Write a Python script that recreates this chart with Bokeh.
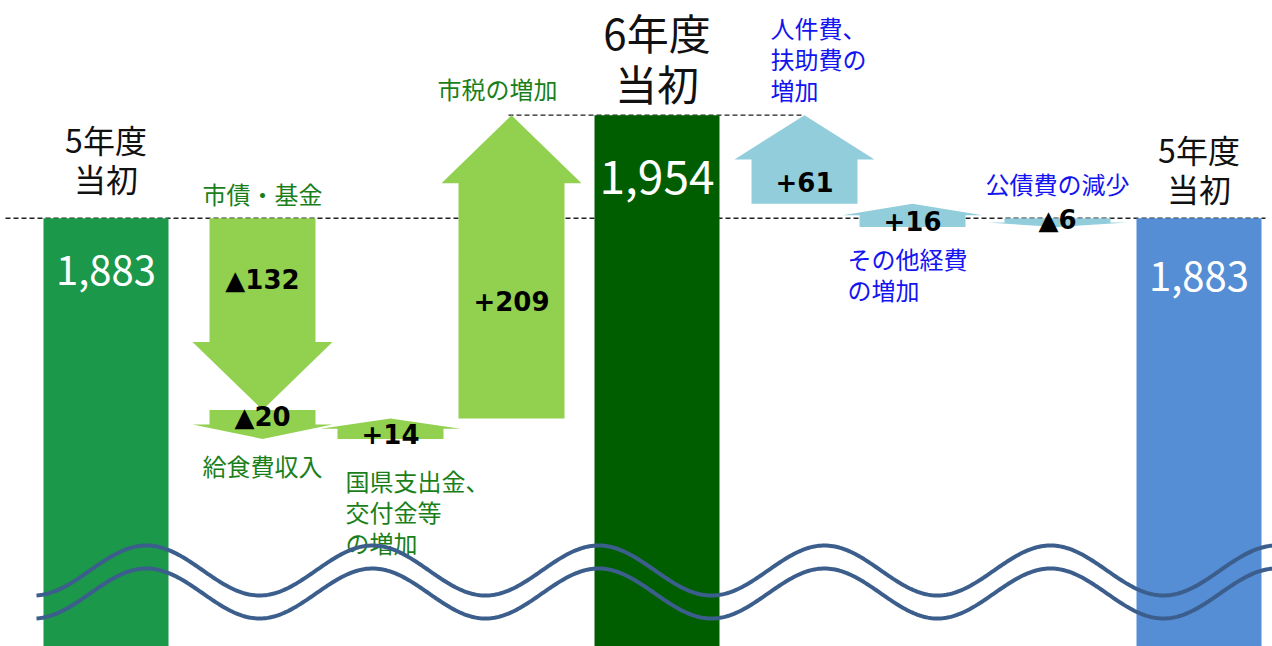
import numpy as np
from bokeh.plotting import figure
from bokeh.models import Range1d
from bokeh.core.properties import value
from bokeh.embed import file_html
from bokeh.resources import INLINE

# ---------------- data ----------------
stage_labels = ["5年度\n当初", "6年度\n当初", "5年度\n当初"]
stage_totals = [1883, 1954, 1883]
revenue_items = ["市債・基金", "給食費収入", "国県支出金、\n交付金等\nの増加", "市税の増加"]
revenue_changes = [-132, -20, 14, 209]
expense_items = ["公債費の減少", "その他経費\nの増加", "人件費、\n扶助費の\n増加"]
expense_changes = [-6, 16, 61]

# ---------------- layout / style ----------------
W, H = 1272, 646
Y_TOP, Y_BOT = 2033.0, 1588.0
PPU = H / (Y_TOP - Y_BOT)          # pixels per value unit


def du(px):
    return px / PPU


bar_x = [105.5, 656.5, 1198.5]
BAR_W = 125
bar_colors = ["#1B9849", "#005E00", "#558ED5"]
rev_x = [262, 262, 390, 511]
exp_x = [1057, 912, 804]
SHAFT_HW, HEAD_HW, HEAD_MAX = 53, 70, 68
REV_FILL = "#92D050"
EXP_FILL = "#92CDDC"
GREEN_TXT = "#1A7F1A"
BLUE_TXT = "#1414F0"
JP = value("Noto Sans CJK JP")
NUM = value("DejaVu Sans")


def fmt_change(v):
    return ("▲" + str(abs(v))) if v < 0 else ("+" + str(v))


def arrow(xc, y0, y1):
    s = 1 if y1 > y0 else -1
    L = abs(y1 - y0) * PPU
    head = du(min(0.5 * L, HEAD_MAX))
    yn = y1 - s * head
    xs = [xc - SHAFT_HW, xc + SHAFT_HW, xc + SHAFT_HW, xc + HEAD_HW, xc, xc - HEAD_HW, xc - SHAFT_HW]
    ys = [y0, y0, yn, yn, y1, yn, yn]
    return xs, ys, (y0 + yn) / 2


p = figure(width=W, height=H, x_range=Range1d(0, W), y_range=Range1d(Y_BOT, Y_TOP),
           toolbar_location=None, output_backend="svg", min_border=0)
p.axis.visible = False
p.grid.visible = False
p.outline_line_color = None
p.background_fill_color = "white"
p.border_fill_color = "white"

# dashed reference lines
p.line([5, 1265], [stage_totals[0], stage_totals[0]], line_color="#222222",
       line_width=1.3, line_dash="5 3")
p.line([rev_x[3] - 3, exp_x[2]], [stage_totals[1], stage_totals[1]], line_color="#222222",
       line_width=1.3, line_dash="5 3")

# bars
p.vbar(x=bar_x, top=stage_totals, bottom=Y_BOT - 20, width=BAR_W,
       fill_color=bar_colors, line_color=None)

# revenue arrows (waterfall from 5年度 to 6年度)
rxs, rys, rmid, r0, r1 = [], [], [], [], []
cur = stage_totals[0]
for xc, ch in zip(rev_x, revenue_changes):
    xs, ys, m = arrow(xc, cur, cur + ch)
    rxs.append(xs); rys.append(ys); rmid.append(m); r0.append(cur); r1.append(cur + ch)
    cur += ch
p.patches(rxs, rys, fill_color=REV_FILL, line_color=None)

# expense arrows (from right 5年度 back up to 6年度)
exs, eys, emid, e0, e1 = [], [], [], [], []
cur = stage_totals[2]
for xc, ch in zip(exp_x, expense_changes):
    xs, ys, m = arrow(xc, cur, cur + ch)
    exs.append(xs); eys.append(ys); emid.append(m); e0.append(cur); e1.append(cur + ch)
    cur += ch
p.patches(exs, eys, fill_color=EXP_FILL, line_color=None)

# change labels inside arrows
p.text(x=rev_x + exp_x, y=rmid + emid,
       text=[fmt_change(v) for v in revenue_changes + expense_changes],
       text_align="center", text_baseline="middle", text_font=NUM,
       text_font_style="bold", text_font_size="26px", text_color="black")

# stage titles above bars
p.text(x=[bar_x[0], bar_x[2]], y=[stage_totals[0] + du(60), stage_totals[2] + du(50)],
       text=[stage_labels[0], stage_labels[2]], text_align="center", text_baseline="middle",
       text_font=JP, text_font_size="32px", text_color="#111111", text_line_height=0.84)
p.text(x=[bar_x[1]], y=[stage_totals[1] + du(58)], text=[stage_labels[1]],
       text_align="center", text_baseline="middle", text_font=JP,
       text_font_size="42px", text_color="#111111", text_line_height=0.84)

# values inside bars
tot_txt = [f"{v:,}" for v in stage_totals]
p.text(x=[bar_x[0], bar_x[2]], y=[stage_totals[0] - du(52), stage_totals[2] - du(58)],
       text=[tot_txt[0], tot_txt[2]], text_align="center", text_baseline="middle",
       text_font=JP, text_font_size="40px", text_color="white")
p.text(x=[bar_x[1]], y=[stage_totals[1] - du(62)], text=[tot_txt[1]],
       text_align="center", text_baseline="middle", text_font=JP,
       text_font_size="46px", text_color="white")

# revenue item labels
lab_kw = dict(text_font=JP, text_font_size="24px", text_line_height=0.89)
p.text(x=[rev_x[0]], y=[r0[0] + du(25)], text=[revenue_items[0]], text_align="center",
       text_baseline="middle", text_color=GREEN_TXT, **lab_kw)
p.text(x=[rev_x[1]], y=[r1[1] - du(27)], text=[revenue_items[1]], text_align="center",
       text_baseline="middle", text_color=GREEN_TXT, **lab_kw)
p.text(x=[rev_x[2] - 45], y=[r0[2] - du(24)], text=[revenue_items[2]], text_align="left",
       text_baseline="top", text_color=GREEN_TXT, **lab_kw)
p.text(x=[rev_x[3] - 74], y=[r1[3] + du(27)], text=[revenue_items[3]], text_align="left",
       text_baseline="middle", text_color=GREEN_TXT, **lab_kw)

# expense item labels
p.text(x=[exp_x[0]], y=[e0[0] + du(35)], text=[expense_items[0]], text_align="center",
       text_baseline="middle", text_color=BLUE_TXT, **lab_kw)
p.text(x=[exp_x[1] - 65], y=[e0[1] - du(14)], text=[expense_items[1]], text_align="left",
       text_baseline="top", text_color=BLUE_TXT, **lab_kw)
p.text(x=[exp_x[2] - 34], y=[e1[2] + du(8)], text=[expense_items[2]], text_align="left",
       text_baseline="bottom", text_color=BLUE_TXT, **lab_kw)

# axis-break waves (decoration)
wx = np.linspace(36, W, 600)
for center_px in (570, 593):
    wy_px = center_px - 25 * np.cos(2 * np.pi * (wx - 146) / 226)
    p.line(wx, Y_TOP - wy_px / PPU, line_color="#3B5E8C", line_width=4)

open("out.html", "w").write(file_html(p, INLINE))
